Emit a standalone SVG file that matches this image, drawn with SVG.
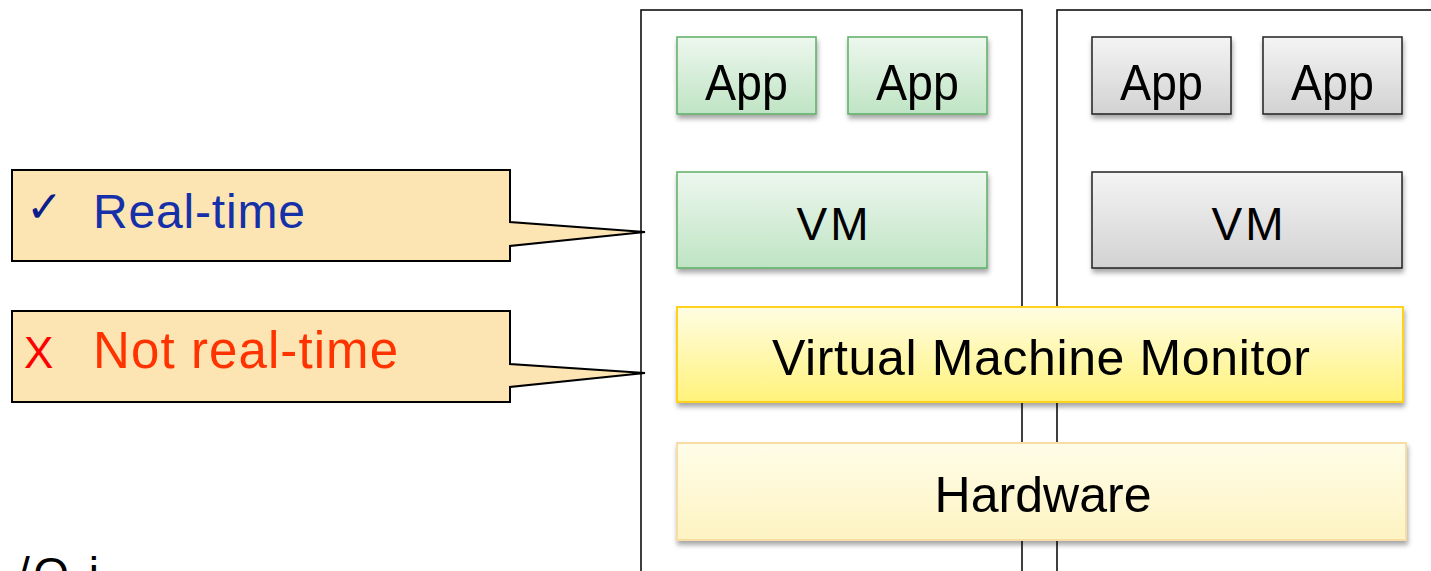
<svg xmlns="http://www.w3.org/2000/svg" width="1431" height="571" viewBox="0 0 1431 571">
<defs>
<linearGradient id="gGreen" x1="0" y1="0" x2="0" y2="1"><stop offset="0" stop-color="#EDF7EE"/><stop offset="1" stop-color="#BFE4C4"/></linearGradient>
<linearGradient id="gGray" x1="0" y1="0" x2="0" y2="1"><stop offset="0" stop-color="#F4F4F4"/><stop offset="1" stop-color="#D2D2D2"/></linearGradient>
<linearGradient id="gVmm" x1="0" y1="0" x2="0" y2="1"><stop offset="0" stop-color="#FFFDE3"/><stop offset="1" stop-color="#FFF27A"/></linearGradient>
<linearGradient id="gHw" x1="0" y1="0" x2="0" y2="1"><stop offset="0" stop-color="#FFFDE8"/><stop offset="1" stop-color="#FDF3C2"/></linearGradient>
<filter id="sh" x="-10%" y="-10%" width="120%" height="140%"><feDropShadow dx="1" dy="4" stdDeviation="2.5" flood-color="#000" flood-opacity="0.35"/></filter>
</defs>
<style>
.t{font-family:"Liberation Sans","DejaVu Sans",sans-serif;fill:#000}
.app{font-size:50px}
.lbl{font-size:50px}
.vm{font-size:46px;letter-spacing:3px}
.green{fill:url(#gGreen);stroke:#5DAE66;stroke-width:1.5}
.gray{fill:url(#gGray);stroke:#222;stroke-width:1.5}
.cont{fill:none;stroke:#000;stroke-width:1.5}
.call{fill:#FDE5B3;stroke:#000;stroke-width:2}
</style>
<rect width="1431" height="571" fill="#fff"/>
<g id="containers">
<path class="cont" d="M641,575 V10 H1022 V575"/>
<path class="cont" d="M1057,575 V10 H1435"/>
</g>
<g id="app1"><rect class="green" x="677" y="37" width="139" height="77" filter="url(#sh)"/>
<text class="t app" x="746.5" y="100" text-anchor="middle" textLength="83" lengthAdjust="spacingAndGlyphs">App</text></g>
<g id="app2"><rect class="green" x="848" y="37" width="139" height="77" filter="url(#sh)"/>
<text class="t app" x="917.5" y="100" text-anchor="middle" textLength="83" lengthAdjust="spacingAndGlyphs">App</text></g>
<g id="vm1"><rect class="green" x="677" y="172" width="310" height="96" filter="url(#sh)"/>
<text class="t vm" x="834" y="240" text-anchor="middle">VM</text></g>
<g id="app3"><rect class="gray" x="1092" y="37" width="139" height="77" filter="url(#sh)"/>
<text class="t app" x="1161.5" y="100" text-anchor="middle" textLength="83" lengthAdjust="spacingAndGlyphs">App</text></g>
<g id="app4"><rect class="gray" x="1263" y="37" width="139" height="77" filter="url(#sh)"/>
<text class="t app" x="1332.5" y="100" text-anchor="middle" textLength="83" lengthAdjust="spacingAndGlyphs">App</text></g>
<g id="vm2"><rect class="gray" x="1092" y="172" width="310" height="96" filter="url(#sh)"/>
<text class="t vm" x="1249" y="240" text-anchor="middle">VM</text></g>
<g id="vmm"><rect x="677" y="307" width="726" height="95" fill="url(#gVmm)" stroke="#FFD21F" stroke-width="2" filter="url(#sh)"/>
<text class="t lbl" x="1041" y="375" text-anchor="middle" textLength="538">Virtual Machine Monitor</text></g>
<g id="hardware"><rect x="677" y="443" width="729" height="97" fill="url(#gHw)" stroke="#F7DCA6" stroke-width="2" filter="url(#sh)"/>
<text class="t lbl" x="1043" y="512" text-anchor="middle" textLength="217">Hardware</text></g>
<g id="callout-rt">
<path class="call" d="M12,170 H510 V222 L645,232 L510,246 V261 H12 Z"/>
<text x="26" y="222" font-family="'DejaVu Sans',sans-serif" font-size="44" font-weight="bold" fill="#0B1E8C">✓</text>
<text x="93" y="228" font-family="'Liberation Sans',sans-serif" font-size="48" fill="#1530A8" textLength="212">Real-time</text>
</g>
<g id="callout-nrt">
<path class="call" d="M12,311 H510 V364 L645,373 L510,387 V402 H12 Z"/>
<text x="24" y="368" font-family="'Liberation Sans',sans-serif" font-size="44" fill="#FF0000">X</text>
<text x="93" y="368" font-family="'Liberation Sans',sans-serif" font-size="51" fill="#FF3300" textLength="305">Not real-time</text>
</g>
<g id="connectors"></g>
<text x="17" y="590" font-family="'Liberation Sans',sans-serif" font-size="46" fill="#000" textLength="82">/O i</text>
</svg>
